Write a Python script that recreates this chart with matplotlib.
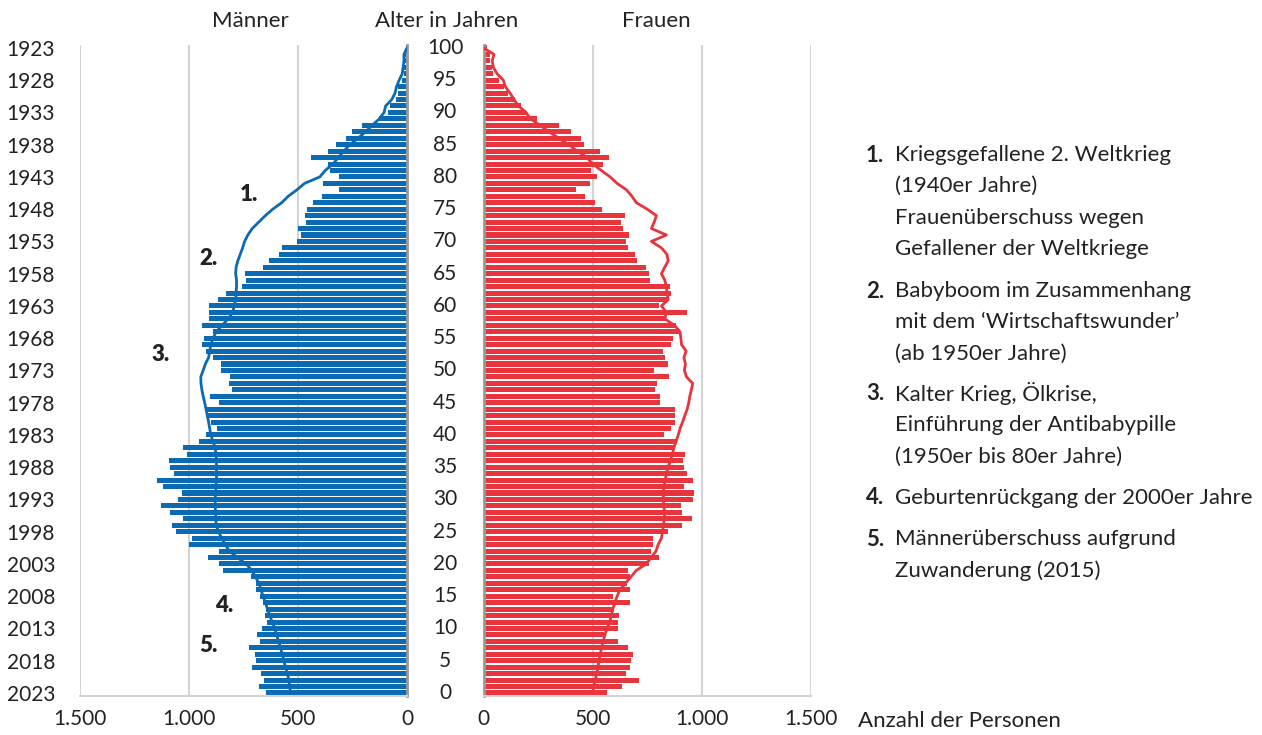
import numpy as np
import matplotlib
matplotlib.use("Agg")
import matplotlib.pyplot as plt
import matplotlib.transforms as mtransforms

plt.rcParams['font.family'] = ['Lato', 'DejaVu Sans']

ages = np.arange(0, 101)
years = [2023 - a for a in range(0, 101, 5)]

# Männer (Balken), Alter 0..100
maenner = [647, 677, 654, 668, 711, 691, 697, 727, 674, 689,
           666, 642, 653, 648, 659, 674, 691, 691, 717, 842,
           862, 915, 863, 1002, 988, 1060, 1080, 1026, 1088, 1129,
           1052, 1032, 1117, 1147, 1071, 1089, 1094, 1011, 1026, 952,
           920, 873, 900, 917, 920, 863, 905, 803, 816, 813,
           854, 855, 888, 924, 942, 929, 892, 942, 909, 909,
           909, 869, 831, 759, 739, 742, 661, 634, 586, 573,
           504, 486, 501, 462, 470, 457, 433, 388, 312, 387,
           310, 353, 364, 442, 364, 327, 280, 252, 207, 130,
           88, 78, 51, 40, 40, 24, 14, 12, 8, 8, 4]

# Frauen (Balken), Alter 0..100
frauen = [564, 634, 713, 651, 670, 675, 683, 662, 617, 554,
          616, 618, 620, 598, 670, 591, 673, 657, 670, 664,
          759, 806, 766, 777, 776, 846, 909, 956, 909, 904,
          959, 962, 920, 959, 933, 920, 916, 925, 873, 881,
          826, 861, 876, 879, 879, 809, 809, 785, 796, 848,
          779, 844, 833, 821, 861, 869, 902, 881, 834, 930,
          803, 846, 861, 853, 763, 759, 742, 705, 695, 663,
          651, 666, 637, 628, 649, 544, 509, 463, 422, 486,
          519, 492, 547, 576, 533, 461, 445, 400, 345, 243,
          194, 170, 144, 114, 94, 72, 45, 37, 30, 30, 15]

# Vergleichslinie links (blau), Alter 0..100
linie_links = [534, 538, 541, 549, 557, 565, 572, 580, 589, 598,
               606, 618, 630, 640, 649, 660, 670, 679, 695, 712,
               738, 778, 815, 834, 850, 865, 875, 877, 878, 880,
               880, 878, 876, 874, 874, 874, 874, 876, 880, 890,
               900, 905, 910, 916, 922, 928, 935, 941, 945, 946,
               935, 925, 910, 905, 900, 890, 875, 848, 820, 800,
               792, 786, 784, 782, 782, 786, 784, 776, 765, 754,
               745, 730, 710, 680, 650, 616, 575, 545, 505, 470,
               400, 375, 340, 315, 290, 262, 225, 190, 160, 127,
               105, 98, 70, 55, 48, 36, 22, 18, 14, 14, 0]

# Vergleichslinie rechts (rot), Alter 0..100
linie_rechts = [500, 505, 512, 518, 524, 529, 534, 541, 548, 556,
                566, 578, 585, 592, 602, 612, 625, 650, 675, 700,
                745, 768, 790, 800, 815, 820, 824, 828, 830, 826,
                823, 824, 827, 832, 838, 846, 856, 864, 872, 882,
                892, 900, 912, 922, 933, 940, 945, 952, 958, 930,
                920, 925, 918, 928, 907, 904, 900, 875, 830, 838,
                815, 846, 840, 838, 830, 815, 830, 846, 840, 815,
                769, 838, 769, 782, 792, 750, 700, 680, 655, 612,
                580, 540, 500, 475, 430, 390, 345, 300, 260, 215,
                195, 160, 140, 121, 100, 91, 62, 45, 40, 48, 0]

x_ticks = [0, 500, 1000, 1500]
x_labels = ['0', '500', '1.000', '1.500']

legende = [
    ('1.', ['Kriegsgefallene 2. Weltkrieg', '(1940er Jahre)',
            'Frauenüberschuss wegen', 'Gefallener der Weltkriege'], 155),
    ('2.', ['Babyboom im Zusammenhang', 'mit dem \u2018Wirtschaftswunder\u2019',
            '(ab 1950er Jahre)'], 291),
    ('3.', ['Kalter Krieg, Ölkrise,', 'Einführung der Antibabypille',
            '(1950er bis 80er Jahre)'], 394),
    ('4.', ['Geburtenrückgang der 2000er Jahre'], 498),
    ('5.', ['Männerüberschuss aufgrund', 'Zuwanderung (2015)'], 539),
]

blau = '#0a6ab4'
rot = '#e8343c'
grid_c = '#d4d4d4'
text_c = '#222222'
W, H = 1262, 735
fs = 15
fs_txt = 16

fig = plt.figure(figsize=(W / 100, H / 100), dpi=100)

bottom = 1 - 696.2 / H
height = 651.5 / H
ax1 = fig.add_axes([80 / W, bottom, (407 - 80) / W, height])
ax2 = fig.add_axes([483.5 / W, bottom, (811 - 483.5) / W, height])

ax1.barh(ages, maenner, height=0.78, color=blau, zorder=2)
ax1.plot(linie_links, ages, color=blau, lw=2, zorder=3)
ax2.barh(ages, frauen, height=0.78, color=rot, zorder=2)
ax2.plot(linie_rechts, ages, color=rot, lw=2, zorder=3)

ax1.set_xlim(1500, 0)
ax2.set_xlim(0, 1500)
for ax in (ax1, ax2):
    ax.set_ylim(-0.5, 100.5)
    ax.set_xticks(x_ticks)
    ax.set_xticklabels(x_labels)
    ax.tick_params(axis='x', length=0, pad=9, labelsize=fs, colors=text_c)
    ax.grid(axis='x', color=grid_c, lw=1.5, zorder=0)
    ax.set_axisbelow(True)
    for s in ax.spines.values():
        s.set_visible(False)
    ax.spines['bottom'].set_visible(True)
    ax.spines['bottom'].set_color(grid_c)
    ax.spines['bottom'].set_linewidth(1.5)

ax1.spines['right'].set_visible(True)
ax1.spines['right'].set_color('#9a9a9a')
ax1.spines['right'].set_linewidth(2)
ax2.spines['left'].set_visible(True)
ax2.spines['left'].set_color('#9a9a9a')
ax2.spines['left'].set_linewidth(2)

ax1.set_yticks(list(range(0, 101, 5)))
ax1.set_yticklabels([str(y) for y in years])
ax1.tick_params(axis='y', length=0, pad=18, labelsize=fs, colors=text_c)
ax2.set_yticks([])

# Altersangaben zwischen den Achsen
tr = mtransforms.blended_transform_factory(fig.transFigure, ax2.transData)
for a in range(0, 101, 5):
    ax2.text(445 / W, a, str(a), transform=tr, ha='center', va='center',
             fontsize=fs, color=text_c)

# Überschriften
for x, t in [(250, 'Männer'), (447, 'Alter in Jahren'), (656, 'Frauen')]:
    fig.text(x / W, 1 - 21 / H, t, ha='center', va='center', fontsize=fs_txt, color=text_c)
fig.text(858 / W, 1 - 721 / H, 'Anzahl der Personen', ha='left', va='center',
         fontsize=fs_txt, color=text_c)

# Markierungen im Diagramm
for t, xv, yv in [('1.', 723, 77.2), ('2.', 912, 67.4), ('3.', 1129, 52.4),
                  ('4.', 839, 13.5), ('5.', 912, 7.4)]:
    ax1.text(xv, yv, t, ha='center', va='center', fontsize=fs_txt,
             fontweight='heavy', color=text_c)

# Legende rechts
for num, zeilen, y0 in legende:
    fig.text(866 / W, 1 - y0 / H, num, ha='left', va='center', fontsize=fs_txt,
             fontweight='bold', color=text_c)
    for i, z in enumerate(zeilen):
        fig.text(895 / W, 1 - (y0 + i * 31.3) / H, z, ha='left', va='center',
                 fontsize=fs_txt, color=text_c)

fig.savefig('out.png', dpi=100)
